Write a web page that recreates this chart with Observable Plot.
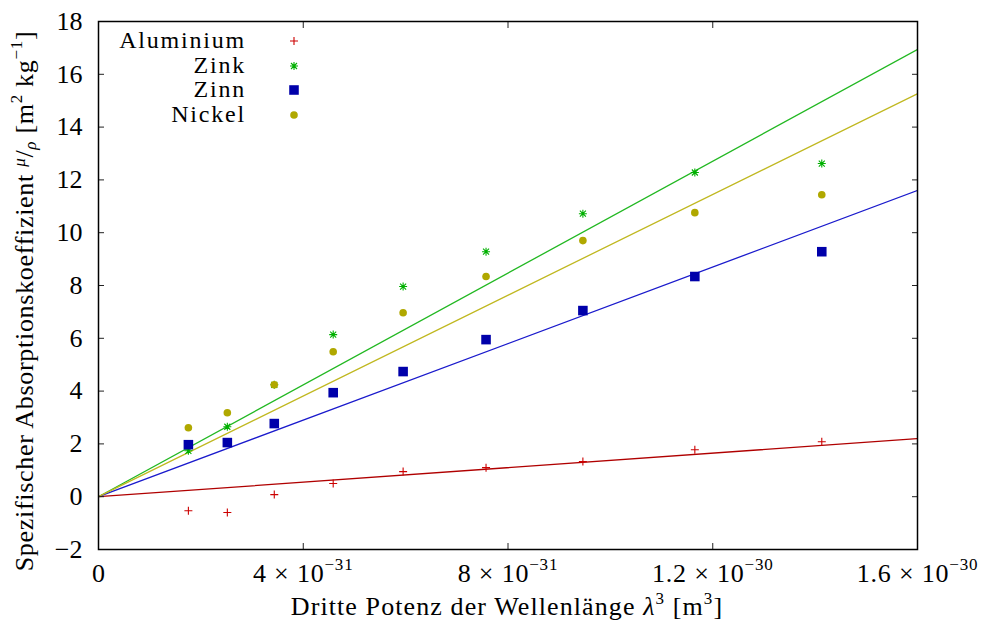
<!DOCTYPE html>
<html>
<head>
<meta charset="utf-8">
<script src="https://cdn.jsdelivr.net/npm/d3@7"></script>
<script src="https://cdn.jsdelivr.net/npm/@observablehq/plot@0.6"></script>
<style>
  html, body { margin: 0; padding: 0; background: #fff; }
  #chart svg { display: block; }
  #chart svg text { font-family: "Liberation Serif", "DejaVu Serif", serif; }
</style>
</head>
<body>
<div id="chart"></div>
<script>
// ---- data ----
const lambdaCubed = [1.756e-31, 2.517e-31, 3.434e-31, 4.585e-31, 5.951e-31, 7.571e-31, 9.463e-31, 1.165e-30, 1.413e-30];
const aluminium = [-0.53, -0.60, 0.08, 0.50, 0.95, 1.10, 1.33, 1.78, 2.08];
const zink      = [1.74, 2.65, 4.24, 6.14, 7.96, 9.28, 10.72, 12.28, 12.62];
const zinn      = [1.97, 2.05, 2.77, 3.94, 4.74, 5.95, 7.05, 8.34, 9.28];
const nickel    = [2.61, 3.18, 4.24, 5.49, 6.97, 8.34, 9.70, 10.76, 11.44];
const seriesNames = ["Aluminium", "Zink", "Zinn", "Nickel"];
const fitSlopes = [1.375e30, 1.059e31, 7.25e30, 9.54e30]; // fitted lines through origin
const xTicks = [0, 4e-31, 8e-31, 1.2e-30, 1.6e-30];
const xTickMantissa = ["0", "4", "8", "1.2", "1.6"];
const xTickExponent = [null, "−31", "−31", "−30", "−30"];
const yTicks = [-2, 0, 2, 4, 6, 8, 10, 12, 14, 16, 18];

// ---- styles ----
const pointColors = {Aluminium: "#cc0000", Zink: "#00b000", Zinn: "#0000aa", Nickel: "#b0a800"};
const lineColors  = {Aluminium: "#b00000", Zink: "#22b822", Zinn: "#1a1acc", Nickel: "#c0b820"};
const FONT = '"Liberation Serif", "DejaVu Serif", serif';
const FS = 26;
const SUP = 17;
const KEY_FS = 24;

const plusSym = {draw(ctx, size) { const r = Math.sqrt(size / Math.PI);
  ctx.moveTo(-r, 0); ctx.lineTo(r, 0); ctx.moveTo(0, -r); ctx.lineTo(0, r); }};
const starSym = {draw(ctx, size) { const r = Math.sqrt(size / Math.PI); const d = r * 0.75;
  ctx.moveTo(-r, 0); ctx.lineTo(r, 0); ctx.moveTo(0, -r); ctx.lineTo(0, r);
  ctx.moveTo(-d, -d); ctx.lineTo(d, d); ctx.moveTo(-d, d); ctx.lineTo(d, -d); }};

const valuesBySeries = [aluminium, zink, zinn, nickel];
const points = [];
seriesNames.forEach((s, i) => valuesBySeries[i].forEach((v, j) => points.push({x: lambdaCubed[j], y: v, s})));
const fitLines = [];
seriesNames.forEach((s, i) => { fitLines.push({x: 0, y: 0, s}); fitLines.push({x: 1.6e-30, y: fitSlopes[i] * 1.6e-30, s}); });
const ptsOf = s => points.filter(d => d.s === s);

const xLab = d => { const i = xTicks.indexOf(d); return xTickExponent[i] ? `${xTickMantissa[i]} × 10^${xTickExponent[i]}` : xTickMantissa[i]; };
const tickStyle = {stroke: "#222", strokeWidth: 1};

const chart = Plot.plot({
  width: 985, height: 626,
  marginLeft: 98, marginRight: 68, marginTop: 21, marginBottom: 77,
  style: {fontFamily: FONT, fontSize: FS + "px", background: "#fff", color: "#000"},
  x: {domain: [0, 1.6e-30], label: null},
  y: {domain: [-2, 18], label: null},
  marks: [
    Plot.line(fitLines, {x: "x", y: "y", z: "s", stroke: d => lineColors[d.s], strokeWidth: 1.3, clip: true}),
    Plot.dot(ptsOf("Aluminium"), {x: "x", y: "y", symbol: plusSym, r: 4, stroke: pointColors.Aluminium, fill: "none", strokeWidth: 1.1}),
    Plot.dot(ptsOf("Zink"), {x: "x", y: "y", symbol: starSym, r: 4, stroke: pointColors.Zink, fill: "none", strokeWidth: 1.1}),
    Plot.dot(ptsOf("Zinn"), {x: "x", y: "y", symbol: "square", r: 5.4, fill: pointColors.Zinn, stroke: "none"}),
    Plot.dot(ptsOf("Nickel"), {x: "x", y: "y", symbol: "circle", r: 3.8, fill: pointColors.Nickel, stroke: "none"}),
    Plot.axisX(xTicks, {anchor: "bottom", tickSize: 6, dy: -6, tickFormat: () => "", ...tickStyle}),
    Plot.axisX(xTicks, {anchor: "top", tickSize: 6, dy: 6, tickFormat: () => "", ...tickStyle}),
    Plot.axisY(yTicks, {anchor: "left", tickSize: 6, dx: 6, tickFormat: () => "", ...tickStyle}),
    Plot.axisY(yTicks, {anchor: "right", tickSize: 6, dx: -6, tickFormat: () => "", ...tickStyle}),
    Plot.axisX(xTicks, {anchor: "bottom", tickSize: 0, tickPadding: 14, tickFormat: xLab, fontSize: FS}),
    Plot.axisY(yTicks, {anchor: "left", tickSize: 0, tickPadding: 16, fontSize: FS}),
    Plot.frame({stroke: "#000", strokeWidth: 1.5})
  ]
});
document.getElementById("chart").appendChild(chart);

const svg = d3.select(chart);

// superscript exponents in x tick labels
svg.selectAll("text").each(function() {
  const t = d3.select(this);
  const txt = t.text();
  if (!txt.includes("^")) return;
  const [base, exp] = txt.split("^");
  t.text("").attr("letter-spacing", 0.8);
  t.append("tspan").text(base);
  t.append("tspan").attr("font-size", SUP).attr("dy", -12).text(exp);
});

// axis titles
const xt = svg.append("text").attr("x", 507).attr("y", 615).attr("text-anchor", "middle")
  .attr("font-family", FONT).attr("font-size", FS).attr("fill", "#000").attr("letter-spacing", 1.1);
xt.append("tspan").text("Dritte Potenz der Wellenlänge ");
xt.append("tspan").attr("font-style", "italic").text("λ");
xt.append("tspan").attr("font-size", SUP).attr("dy", -11).text("3");
xt.append("tspan").attr("dy", 11).text(" [m");
xt.append("tspan").attr("font-size", SUP).attr("dy", -11).text("3");
xt.append("tspan").attr("dy", 11).text("]");

const yt = svg.append("text").attr("transform", "translate(33,301) rotate(-90)").attr("text-anchor", "middle")
  .attr("font-family", FONT).attr("font-size", FS).attr("fill", "#000").attr("letter-spacing", 0.7);
yt.append("tspan").text("Spezifischer Absorptionskoeffizient ");
yt.append("tspan").attr("font-style", "italic").attr("font-size", SUP).attr("dy", -8).text("μ");
yt.append("tspan").attr("dy", 8).text("/");
yt.append("tspan").attr("font-style", "italic").attr("font-size", SUP).attr("dy", 3).text("ρ");
yt.append("tspan").attr("dy", -3).text(" [m");
yt.append("tspan").attr("font-size", SUP).attr("dy", -11).text("2");
yt.append("tspan").attr("dy", 11).text(" kg");
yt.append("tspan").attr("font-size", SUP).attr("dy", -11).text("−1");
yt.append("tspan").attr("dy", 11).text("]");

// key
const keyY = [41, 66, 90, 115];
const keySyms = [plusSym, starSym, d3.symbolSquare, d3.symbolCircle];
const keySizes = [Math.PI * 16, Math.PI * 16, Math.PI * 5.4 * 5.4, Math.PI * 3.8 * 3.8];
seriesNames.forEach((s, i) => {
  svg.append("text").attr("x", 246).attr("y", keyY[i] + 7).attr("text-anchor", "end")
    .attr("font-family", FONT).attr("font-size", KEY_FS).attr("fill", "#000").attr("letter-spacing", 1.8).text(s);
  const p = svg.append("path").attr("transform", `translate(294,${keyY[i]})`)
    .attr("d", d3.symbol(keySyms[i], keySizes[i])());
  if (i < 2) p.attr("fill", "none").attr("stroke", pointColors[s]).attr("stroke-width", 1.1);
  else p.attr("fill", pointColors[s]);
});
</script>
</body>
</html>
